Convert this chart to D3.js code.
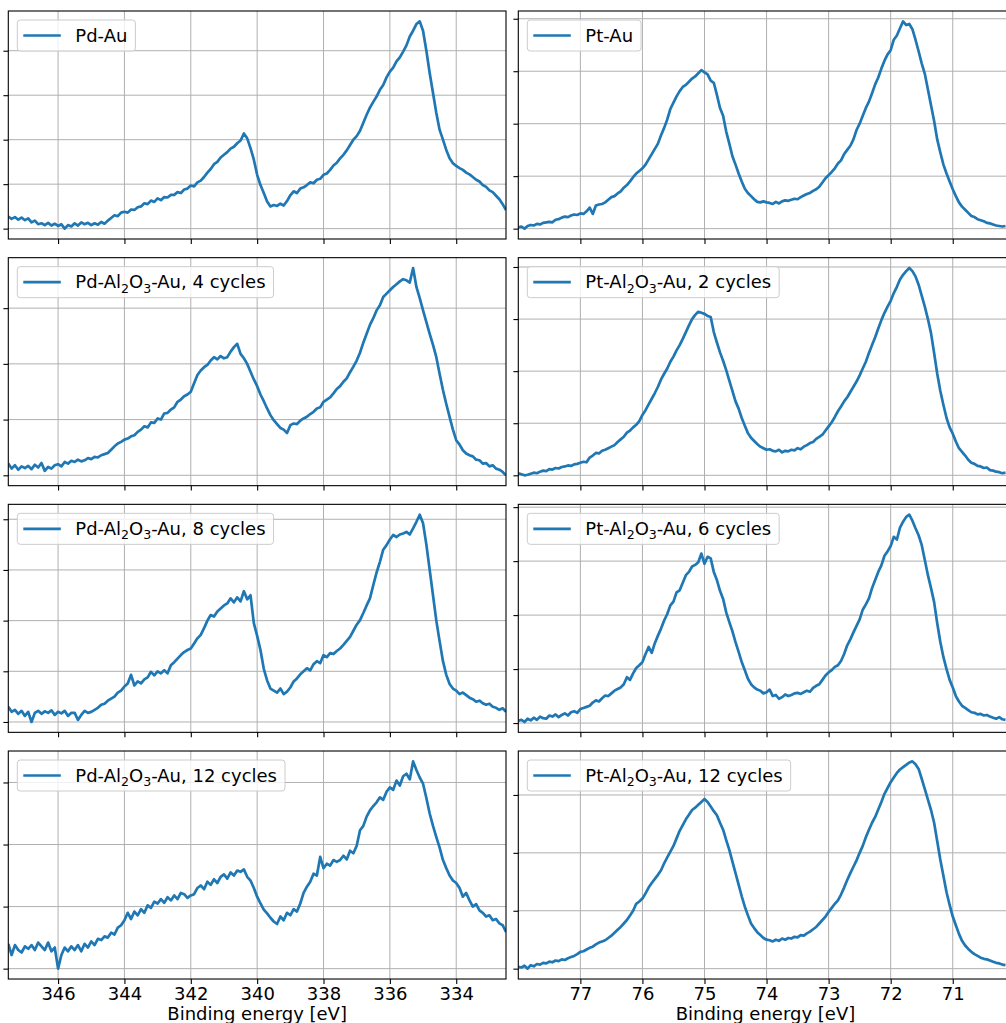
<!DOCTYPE html>
<html>
<head>
<meta charset="utf-8">
<script src="https://cdn.jsdelivr.net/npm/d3@7"></script>
<style>
  html, body { margin: 0; padding: 0; background: #fff; }
  svg { display: block; font-family: "DejaVu Sans", sans-serif; }
</style>
</head>
<body>
<svg id="chart" width="1006" height="1023"></svg>
<script>
// XPS spectra: Pd 3d (left column) and Pt 4f (right column) regions,
// intensities in arbitrary units with the background minimum at zero.

// Energy sampling of the two regions (binding energy, eV, descending)
const pdStart = 347.5, pdStep = 0.1;
const ptStart = 78.0,  ptStep = 0.05;

const pdDomain = [347.5, 332.5];
const ptDomain = [78.0, 70.1];
const pdTicks = [346, 344, 342, 340, 338, 336, 334];
const ptTicks = [77, 76, 75, 74, 73, 72, 71];
const xLabel = "Binding energy [eV]";

const pdLabels = ["Pd-Au", "Pd-Al_2O_3-Au, 4 cycles", "Pd-Al_2O_3-Au, 8 cycles", "Pd-Al_2O_3-Au, 12 cycles"];
const ptLabels = ["Pt-Au", "Pt-Al_2O_3-Au, 2 cycles", "Pt-Al_2O_3-Au, 6 cycles", "Pt-Al_2O_3-Au, 12 cycles"];

// Pd 3d, 347.5 -> 332.5 eV in 0.1 eV steps
const pdAu = [
  0.27,0.22,0.26,0.20,0.25,0.19,0.23,0.14,0.18,0.10,
  0.12,0.08,0.13,0.07,0.11,0.06,0.10,0.00,0.08,0.05,
  0.12,0.07,0.14,0.10,0.13,0.08,0.12,0.09,0.15,0.11,
  0.18,0.24,0.30,0.28,0.36,0.38,0.36,0.43,0.42,0.48,
  0.50,0.57,0.55,0.63,0.60,0.68,0.64,0.71,0.70,0.76,
  0.76,0.82,0.80,0.88,0.90,0.97,0.95,1.04,1.08,1.16,
  1.26,1.34,1.45,1.50,1.60,1.66,1.72,1.80,1.84,1.92,
  1.98,2.14,2.03,1.81,1.55,1.21,0.98,0.80,0.61,0.50,
  0.53,0.51,0.56,0.52,0.62,0.75,0.84,0.80,0.90,0.93,
  0.98,1.04,1.02,1.10,1.12,1.21,1.24,1.32,1.42,1.48,
  1.58,1.66,1.76,1.88,2.00,2.08,2.20,2.38,2.56,2.72,
  2.85,2.97,3.12,3.23,3.40,3.53,3.62,3.76,3.85,3.98,
  4.12,4.32,4.45,4.60,4.66,4.45,4.00,3.50,3.05,2.60,
  2.22,2.00,1.77,1.58,1.47,1.41,1.36,1.32,1.26,1.22,
  1.16,1.10,1.06,0.98,0.94,0.86,0.82,0.74,0.66,0.55,
  0.42
];
const pdAl4 = [
  0.21,0.12,0.18,0.10,0.16,0.13,0.17,0.11,0.19,0.14,
  0.22,0.08,0.15,0.12,0.18,0.20,0.16,0.24,0.21,0.26,
  0.24,0.28,0.25,0.27,0.31,0.29,0.33,0.32,0.36,0.38,
  0.40,0.46,0.52,0.57,0.60,0.64,0.66,0.70,0.72,0.78,
  0.82,0.88,0.86,0.95,0.94,1.02,1.00,1.11,1.12,1.18,
  1.22,1.32,1.36,1.42,1.45,1.50,1.65,1.80,1.88,1.94,
  1.98,2.06,2.12,2.08,2.14,2.10,2.12,2.22,2.30,2.36,
  2.18,2.10,2.00,1.86,1.72,1.60,1.45,1.33,1.20,1.08,
  0.99,0.92,0.85,0.82,0.76,0.90,0.93,0.92,0.98,1.02,
  1.05,1.10,1.14,1.20,1.22,1.32,1.36,1.40,1.47,1.55,
  1.60,1.68,1.74,1.85,1.95,2.06,2.20,2.38,2.54,2.70,
  2.82,2.96,3.05,3.20,3.26,3.32,3.38,3.43,3.48,3.52,
  3.50,3.46,3.72,3.38,3.18,2.96,2.75,2.54,2.34,2.12,
  1.82,1.53,1.28,1.05,0.82,0.63,0.55,0.45,0.39,0.36,
  0.34,0.28,0.27,0.21,0.22,0.16,0.18,0.12,0.10,0.06,
  0.00
];
const pdAl8 = [
  0.30,0.20,0.24,0.16,0.22,0.12,0.20,0.00,0.18,0.22,
  0.16,0.21,0.18,0.23,0.14,0.20,0.17,0.22,0.12,0.18,
  0.18,0.04,0.14,0.22,0.18,0.20,0.24,0.28,0.34,0.36,
  0.42,0.46,0.50,0.58,0.62,0.70,0.76,0.93,0.72,0.80,
  0.76,0.84,0.88,0.99,0.92,1.00,0.96,1.02,0.96,1.12,
  1.18,1.25,1.32,1.38,1.42,1.45,1.55,1.65,1.72,1.85,
  2.00,2.11,2.08,2.18,2.24,2.30,2.34,2.44,2.36,2.46,
  2.38,2.58,2.42,2.50,1.95,1.70,1.42,1.05,0.82,0.66,
  0.62,0.58,0.66,0.55,0.60,0.68,0.80,0.86,0.94,1.00,
  1.06,1.02,1.14,1.20,1.16,1.32,1.28,1.36,1.34,1.40,
  1.45,1.52,1.60,1.68,1.80,1.92,2.01,2.15,2.30,2.44,
  2.70,2.95,3.16,3.40,3.49,3.60,3.69,3.65,3.70,3.72,
  3.75,3.70,3.82,3.95,4.09,3.92,3.50,3.00,2.50,2.00,
  1.59,1.20,0.93,0.75,0.66,0.62,0.55,0.58,0.53,0.48,
  0.45,0.40,0.42,0.37,0.34,0.36,0.30,0.28,0.24,0.27,
  0.20
];
const pdAl12 = [
  0.40,0.22,0.38,0.30,0.26,0.36,0.32,0.38,0.30,0.42,
  0.36,0.30,0.42,0.28,0.34,0.00,0.22,0.34,0.28,0.36,
  0.30,0.38,0.28,0.40,0.34,0.44,0.38,0.48,0.46,0.52,
  0.50,0.58,0.55,0.66,0.70,0.78,0.90,0.80,0.92,0.86,
  0.96,0.90,1.02,0.98,1.08,1.05,1.12,1.06,1.15,1.10,
  1.18,1.12,1.22,1.20,1.14,1.18,1.20,1.30,1.34,1.28,
  1.40,1.35,1.44,1.38,1.48,1.52,1.45,1.55,1.50,1.58,
  1.56,1.60,1.48,1.42,1.30,1.16,1.05,0.95,0.89,0.82,
  0.76,0.72,0.84,0.78,0.90,0.86,0.96,0.92,1.05,1.22,
  1.32,1.40,1.53,1.50,1.80,1.62,1.69,1.66,1.75,1.72,
  1.75,1.82,1.76,1.90,1.86,1.98,2.23,2.30,2.45,2.55,
  2.62,2.68,2.76,2.72,2.85,2.92,2.88,3.03,2.95,3.10,
  3.14,3.05,3.34,3.20,3.08,2.98,2.75,2.50,2.30,2.12,
  1.95,1.75,1.62,1.50,1.42,1.38,1.30,1.16,1.22,1.10,
  1.00,1.04,0.94,0.90,0.84,0.86,0.78,0.80,0.73,0.70,
  0.59
];

// Pt 4f, 78.00 -> 70.15 eV in 0.05 eV steps
const ptAu = [
  0.02,0.04,0.00,0.05,0.07,0.06,0.09,0.08,0.11,0.12,0.13,0.12,0.17,0.18,0.21,0.23,0.22,0.25,0.27,0.26,
  0.29,0.28,0.33,0.40,0.28,0.44,0.46,0.47,0.50,0.55,0.60,0.62,0.67,0.71,0.78,0.83,0.90,0.98,1.05,1.10,
  1.15,1.22,1.32,1.42,1.52,1.62,1.78,1.92,2.08,2.28,2.40,2.52,2.62,2.70,2.74,2.80,2.86,2.90,2.96,3.02,
  2.98,2.94,2.82,2.78,2.55,2.30,2.15,1.85,1.62,1.38,1.22,1.05,0.90,0.76,0.68,0.62,0.56,0.51,0.50,0.52,
  0.50,0.49,0.47,0.51,0.48,0.52,0.54,0.53,0.55,0.57,0.56,0.60,0.63,0.66,0.68,0.72,0.75,0.80,0.88,0.96,
  1.02,1.08,1.15,1.24,1.30,1.42,1.50,1.58,1.70,1.88,2.00,2.15,2.30,2.42,2.58,2.75,2.88,3.05,3.20,3.32,
  3.40,3.60,3.68,3.82,3.95,3.88,3.90,3.80,3.60,3.38,3.15,2.95,2.65,2.35,2.05,1.70,1.45,1.22,1.05,0.90,
  0.75,0.62,0.50,0.42,0.36,0.30,0.24,0.22,0.18,0.16,0.14,0.11,0.10,0.08,0.06,0.05,0.04,0.05
];
const ptAl2 = [
  0.04,0.02,0.00,0.01,0.03,0.05,0.04,0.07,0.09,0.08,0.12,0.11,0.14,0.13,0.16,0.17,0.19,0.18,0.21,0.22,
  0.24,0.26,0.25,0.34,0.38,0.43,0.42,0.47,0.49,0.52,0.55,0.58,0.64,0.69,0.74,0.82,0.86,0.92,0.97,1.04,
  1.16,1.25,1.36,1.47,1.58,1.70,1.84,1.95,2.05,2.18,2.28,2.40,2.50,2.62,2.75,2.88,3.00,3.08,3.14,3.12,
  3.10,3.06,3.04,2.75,2.55,2.36,2.20,2.02,1.82,1.62,1.42,1.28,1.10,0.95,0.81,0.72,0.66,0.60,0.55,0.52,
  0.49,0.50,0.47,0.46,0.49,0.44,0.47,0.46,0.49,0.48,0.52,0.50,0.55,0.58,0.62,0.64,0.70,0.74,0.78,0.86,
  0.94,1.02,1.12,1.23,1.32,1.42,1.50,1.60,1.70,1.80,1.92,2.05,2.18,2.35,2.50,2.65,2.82,2.98,3.12,3.24,
  3.35,3.50,3.62,3.76,3.85,3.92,3.98,3.92,3.82,3.66,3.45,3.24,3.00,2.73,2.35,1.95,1.62,1.35,1.10,0.92,
  0.80,0.65,0.52,0.45,0.38,0.30,0.24,0.22,0.18,0.17,0.14,0.15,0.10,0.09,0.07,0.06,0.04,0.05
];
const ptAl6 = [
  0.04,0.06,0.02,0.08,0.05,0.10,0.06,0.12,0.09,0.08,0.14,0.12,0.16,0.11,0.15,0.18,0.14,0.20,0.22,0.19,
  0.26,0.28,0.30,0.32,0.38,0.42,0.40,0.46,0.51,0.50,0.55,0.60,0.63,0.66,0.72,0.85,0.80,0.92,1.02,1.07,
  1.13,1.28,1.41,1.30,1.48,1.62,1.75,1.90,2.02,2.18,2.25,2.42,2.46,2.60,2.74,2.80,2.90,2.93,2.98,3.14,
  2.95,3.08,3.05,2.80,2.65,2.45,2.30,2.05,1.87,1.70,1.50,1.32,1.13,0.98,0.82,0.72,0.66,0.62,0.60,0.55,
  0.57,0.62,0.50,0.52,0.45,0.48,0.53,0.50,0.52,0.55,0.56,0.54,0.57,0.60,0.58,0.65,0.69,0.72,0.80,0.88,
  0.94,0.98,1.04,1.07,1.15,1.28,1.44,1.55,1.68,1.80,1.92,2.10,2.20,2.31,2.50,2.65,2.80,2.92,3.10,3.18,
  3.28,3.45,3.40,3.62,3.73,3.82,3.86,3.75,3.61,3.48,3.30,3.02,2.74,2.50,2.24,1.85,1.50,1.22,1.00,0.80,
  0.66,0.50,0.40,0.32,0.28,0.24,0.20,0.19,0.16,0.17,0.14,0.15,0.12,0.10,0.08,0.11,0.07,0.06
];
const ptAl12 = [
  0.03,0.02,0.05,0.00,0.06,0.04,0.08,0.07,0.10,0.09,0.12,0.11,0.14,0.13,0.16,0.15,0.18,0.20,0.22,0.25,
  0.29,0.30,0.33,0.36,0.38,0.42,0.45,0.47,0.49,0.53,0.57,0.62,0.67,0.72,0.78,0.84,0.92,1.00,1.12,1.16,
  1.21,1.30,1.40,1.48,1.55,1.62,1.70,1.82,1.92,2.02,2.12,2.25,2.38,2.48,2.58,2.66,2.74,2.78,2.83,2.88,
  2.93,2.88,2.80,2.72,2.65,2.52,2.40,2.22,2.05,1.85,1.65,1.45,1.25,1.07,0.92,0.78,0.70,0.63,0.58,0.53,
  0.50,0.49,0.47,0.50,0.48,0.52,0.50,0.53,0.52,0.55,0.54,0.58,0.57,0.61,0.64,0.68,0.72,0.78,0.84,0.90,
  0.98,1.05,1.12,1.18,1.28,1.40,1.53,1.65,1.76,1.87,2.00,2.12,2.27,2.40,2.52,2.62,2.75,2.88,3.02,3.12,
  3.22,3.30,3.38,3.44,3.48,3.52,3.56,3.58,3.53,3.45,3.28,3.10,2.92,2.74,2.52,2.20,1.88,1.60,1.32,1.10,
  0.90,0.75,0.60,0.48,0.40,0.34,0.29,0.25,0.22,0.19,0.17,0.16,0.14,0.12,0.10,0.09,0.07,0.06
];

const pdSeries = [pdAu, pdAl4, pdAl8, pdAl12];
const ptSeries = [ptAu, ptAl2, ptAl6, ptAl12];

// ---- layout ----
const svg = d3.select("#chart");
svg.append("rect").attr("width", 1006).attr("height", 1023).attr("fill", "#fff");

const FONT = 18;
const LINE_COLOR = "#1f77b4";
const GRID_COLOR = "#b0b0b0";
const rowTop = r => 11 + r * 246.67;
const panelH = 228;
const columns = [
  { x0: 8.3,   x1: 506,    domain: pdDomain, ticks: pdTicks, start: pdStart, step: pdStep, series: pdSeries, labels: pdLabels },
  { x0: 518.3, x1: 1008.6, domain: ptDomain, ticks: ptTicks, start: ptStart, step: ptStep, series: ptSeries, labels: ptLabels }
];

// Writes a label such as "Al_2O_3" with subscripted digits
function writeLabel(text, label) {
  const parts = label.split(/_(\d)/);
  let shift = 0;
  parts.forEach((p, i) => {
    if (!p) return;
    const sub = i % 2 === 1;
    const target = sub ? 4.5 : 0;
    const t = text.append("tspan").text(p);
    if (target !== shift) t.attr("dy", target - shift);
    if (sub) t.attr("font-size", FONT * 0.7);
    shift = target;
  });
}

columns.forEach((col, ci) => {
  const x = d3.scaleLinear().domain(col.domain).range([col.x0, col.x1]);

  col.series.forEach((vals, ri) => {
    const top = rowTop(ri), bottom = top + panelH;
    const pts = vals.map((v, i) => ({ e: col.start - i * col.step, v }));
    const [lo, hi] = d3.extent(vals);
    const pad = 0.05 * (hi - lo);
    const y = d3.scaleLinear().domain([lo - pad, hi + pad]).range([bottom, top]);
    const yTicks = d3.range(Math.ceil(lo - pad), Math.floor(hi + pad) + 1);
    const isBottom = ri === col.series.length - 1;

    const g = svg.append("g");
    const clipId = `clip-${ci}-${ri}`;
    g.append("clipPath").attr("id", clipId)
      .append("rect").attr("x", col.x0).attr("y", top)
      .attr("width", col.x1 - col.x0).attr("height", panelH);

    // grid
    const grid = g.append("g").attr("stroke", GRID_COLOR).attr("stroke-width", 1);
    grid.selectAll(".gx").data(col.ticks).join("line")
      .attr("x1", d => x(d)).attr("x2", d => x(d))
      .attr("y1", top).attr("y2", bottom);
    grid.selectAll(".gy").data(yTicks).join("line")
      .attr("x1", col.x0).attr("x2", col.x1)
      .attr("y1", d => y(d)).attr("y2", d => y(d));

    // spectrum
    g.append("path")
      .datum(pts)
      .attr("clip-path", `url(#${clipId})`)
      .attr("fill", "none")
      .attr("stroke", LINE_COLOR)
      .attr("stroke-width", 2.7)
      .attr("stroke-linejoin", "round")
      .attr("d", d3.line().x(d => x(d.e)).y(d => y(d.v)));

    // axes (ticks only, frame drawn separately)
    const xAxis = d3.axisBottom(x).tickValues(col.ticks).tickSize(4.9).tickPadding(3)
      .tickFormat(isBottom ? d3.format("d") : () => "");
    const gx = g.append("g").attr("transform", `translate(0,${bottom})`).call(xAxis);
    const yAxis = d3.axisLeft(y).tickValues(yTicks).tickSize(4.9).tickFormat(() => "");
    const gy = g.append("g").attr("transform", `translate(${col.x0},0)`).call(yAxis);
    [gx, gy].forEach(a => {
      a.select(".domain").remove();
      a.selectAll(".tick line").attr("stroke", "#000").attr("stroke-width", 1.1);
      a.selectAll(".tick text").attr("font-size", FONT).attr("font-family", "DejaVu Sans").attr("fill", "#000");
    });

    // frame
    g.append("rect")
      .attr("x", col.x0).attr("y", top)
      .attr("width", col.x1 - col.x0).attr("height", panelH)
      .attr("fill", "none").attr("stroke", "#000").attr("stroke-width", 1.1);

    // legend
    const lg = g.append("g").attr("transform", `translate(${col.x0 + 9},${top + 9})`);
    const box = lg.append("rect")
      .attr("height", 31).attr("rx", 3).attr("ry", 3)
      .attr("fill", "#fff").attr("fill-opacity", 0.8)
      .attr("stroke", "#cccccc").attr("stroke-width", 1);
    lg.append("line")
      .attr("x1", 6).attr("x2", 43.5).attr("y1", 15.5).attr("y2", 15.5)
      .attr("stroke", LINE_COLOR).attr("stroke-width", 2.7);
    const txt = lg.append("text")
      .attr("x", 58).attr("y", 21.5)
      .attr("font-size", FONT).attr("fill", "#000");
    writeLabel(txt, col.labels[ri]);
    const w = txt.node().getBBox().width;
    box.attr("width", 58 + w + 8);

    if (isBottom) {
      g.append("text")
        .attr("x", (col.x0 + col.x1) / 2 + (ci === 1 ? 2 : 0))
        .attr("y", 1019.5)
        .attr("text-anchor", "middle")
        .attr("font-size", FONT).attr("fill", "#000")
        .text(xLabel);
    }
  });
});
</script>
</body>
</html>
